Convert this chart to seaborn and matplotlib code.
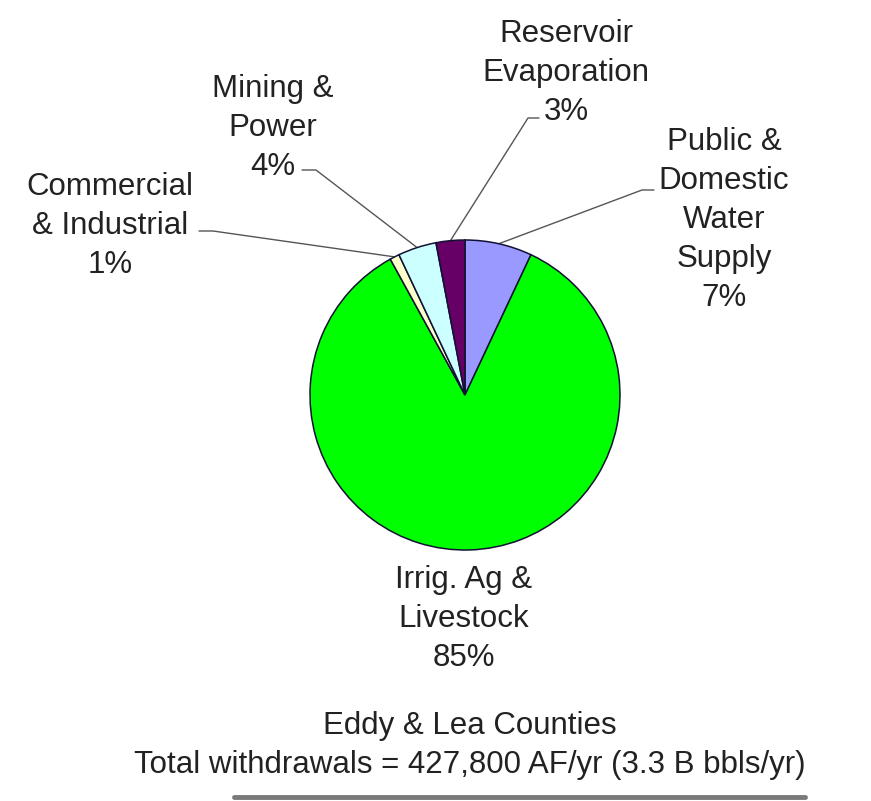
import matplotlib
matplotlib.use("Agg")
import matplotlib.pyplot as plt
import numpy as np
import seaborn as sns
from matplotlib.lines import Line2D

# Water withdrawals by use, Eddy & Lea Counties (percent of total)
categories = ["Public & Domestic Water Supply", "Irrig. Ag & Livestock",
              "Commercial & Industrial", "Mining & Power", "Reservoir Evaporation"]
label_lines = [["Public &", "Domestic", "Water", "Supply"],
               ["Irrig. Ag &", "Livestock"],
               ["Commercial", "& Industrial"],
               ["Mining &", "Power"],
               ["Reservoir", "Evaporation"]]
shares = [7, 85, 1, 4, 3]
colors = ["#9999FF", "#00FF00", "#FFFFCC", "#CCFFFF", "#660066"]
title_lines = ["Eddy & Lea Counties",
               "Total withdrawals = 427,800 AF/yr (3.3 B bbls/yr)"]

sns.set_theme(style="white")
plt.rcParams["font.family"] = ["Liberation Sans", "DejaVu Sans"]

W, H = 871, 801
fig = plt.figure(figsize=(W / 100, H / 100), dpi=100)
ax = fig.add_axes([0, 0, 1, 1])


def py(y):
    """Convert a top-down pixel row to the axis' bottom-up coordinate."""
    return H - y


center = (465, py(395))
radius = 155
wedges, _ = ax.pie(shares, colors=colors, startangle=90, counterclock=False,
                   center=center, radius=radius, frame=True,
                   wedgeprops=dict(edgecolor="#111133", linewidth=1.1))
ax.set_xlim(0, W)
ax.set_ylim(0, H)
ax.set_aspect("equal")
ax.axis("off")

# label blocks: centre x, first baseline (pixel rows)
label_pos = [(724, 150), (464, 588), (110, 195), (273, 97), (566, 42)]
# leader start points next to the label text (pixel rows)
leader_start = [[(654, 190), (642, 190)],
                None,
                [(199, 231), (213, 231)],
                [(302, 170), (316, 170)],
                [(539, 118), (528, 118)]]
step = 39
fs = 22.5
for i, (lines, share) in enumerate(zip(label_lines, shares)):
    x0, b0 = label_pos[i]
    for k, txt in enumerate(lines + [f"{share}%"]):
        ax.text(x0, py(b0 + k * step), txt, ha="center", va="baseline",
                fontsize=fs, color="#222222")
    if leader_start[i] is not None:
        w = wedges[i]
        mid = np.deg2rad((w.theta1 + w.theta2) / 2)
        ex = w.center[0] + w.r * np.cos(mid)
        ey = w.center[1] + w.r * np.sin(mid)
        xs = [p[0] for p in leader_start[i]] + [ex]
        ys = [py(p[1]) for p in leader_start[i]] + [ey]
        ax.plot(xs, ys, color="#555555", linewidth=1.0, zorder=0.5)

# caption below the pie
ax.text(470, py(734), title_lines[0], ha="center", va="baseline",
        fontsize=fs, color="#222222")
ax.text(470, py(773), title_lines[1], ha="center", va="baseline",
        fontsize=fs, color="#222222")

# rule along the bottom edge
fig.add_artist(Line2D([234 / W, 805 / W], [1 - 797 / H, 1 - 797 / H],
                      color="#7a7a7a", linewidth=3.5))

fig.savefig("out.png", dpi=100)
